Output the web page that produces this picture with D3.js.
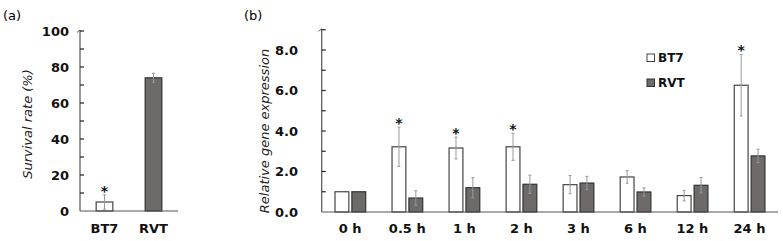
<!DOCTYPE html>
<html>
<head>
<meta charset="utf-8">
<script src="https://cdn.jsdelivr.net/npm/d3@7"></script>
<style>
  body { margin: 0; background: #fff; }
  svg { font-family: "DejaVu Sans", sans-serif; }
  .tick-lab { font-weight: bold; font-size: 13px; fill: #111; }
  .title { font-style: italic; font-size: 13px; fill: #222; }
  .star { font-weight: bold; font-size: 14px; fill: #111; }
</style>
</head>
<body>
<div id="chart"></div>
<script>
// panel (a)
const strainsA = ["BT7", "RVT"];
const survival = [5, 74];
const survivalErr = [4, 2.5];
const survivalSig = [true, false];
const ticksA = [0, 20, 40, 60, 80, 100];

// panel (b)
const times = ["0 h", "0.5 h", "1 h", "2 h", "3 h", "6 h", "12 h", "24 h"];
const bt7 = [1.0, 3.22, 3.16, 3.22, 1.35, 1.73, 0.81, 6.26];
const bt7Err = [0, 0.97, 0.54, 0.67, 0.45, 0.31, 0.26, 1.52];
const rvt = [1.0, 0.69, 1.2, 1.37, 1.43, 0.99, 1.32, 2.77];
const rvtErr = [0, 0.36, 0.5, 0.45, 0.33, 0.2, 0.38, 0.33];
const sigB = [false, true, true, true, false, false, false, true];
const ticksB = [0, 2, 4, 6, 8];
const series = ["BT7", "RVT"];

const fills = { BT7: "#ffffff", RVT: "#6e6a6a" };
const strokes = { BT7: "#444", RVT: "#333" };

const svg = d3.select("#chart").append("svg")
  .attr("width", 783).attr("height", 241);

function yAxis(g, y, x0, minor, labels, fmt, labX) {
  const top = y.range()[1];
  g.append("line").attr("x1", x0).attr("x2", x0)
    .attr("y1", y.range()[0]).attr("y2", top - 1)
    .attr("stroke", "#555").attr("stroke-width", 1.2);
  // small tip at the top of the axis
  g.append("path").attr("d", `M${x0},${top - 1} l-3,2.5`)
    .attr("stroke", "#555").attr("fill", "none");
  g.selectAll(".mt").data(minor).join("line")
    .attr("x1", x0).attr("x2", x0 + 4)
    .attr("y1", d => y(d)).attr("y2", d => y(d))
    .attr("stroke", "#222").attr("stroke-width", 1.2);
  g.selectAll(".tl").data(labels).join("text")
    .attr("class", "tick-lab")
    .attr("x", labX).attr("y", d => y(d)).attr("dy", "0.36em")
    .attr("text-anchor", "end").text(fmt);
}

function errBar(g, cx, yTop, yBot, cap) {
  g.append("line").attr("x1", cx).attr("x2", cx).attr("y1", yTop).attr("y2", yBot)
    .attr("stroke", "#999").attr("stroke-width", 1);
  [yTop, yBot].forEach(v => g.append("line")
    .attr("x1", cx - cap).attr("x2", cx + cap).attr("y1", v).attr("y2", v)
    .attr("stroke", "#999").attr("stroke-width", 1));
}

// stars go in their own layer (opacity forces plain grey antialiasing)
const starLayer = svg.append("g").attr("opacity", 0.99);
function star(cx, yTop) {
  starLayer.append("text").attr("class", "star")
    .attr("x", cx).attr("y", yTop + 1)
    .attr("text-anchor", "middle").text("*");
}

// ---- panel (a)
svg.append("text").attr("x", 3).attr("y", 20).style("font-size", "13px").text("(a)");
const gA = svg.append("g");
const yA = d3.scaleLinear().domain([0, 100]).range([211, 31]);
const xA = d3.scaleBand().domain(strainsA).range([80, 178]).paddingInner(0.66).paddingOuter(0.33);

strainsA.forEach((s, i) => {
  const x = xA(s), w = xA.bandwidth(), cx = x + w / 2;
  gA.append("rect").attr("x", x).attr("y", yA(survival[i]))
    .attr("width", w).attr("height", yA(0) - yA(survival[i]))
    .attr("fill", fills[s]).attr("stroke", strokes[s]).attr("stroke-width", 1.2);
  errBar(gA, cx, yA(survival[i] + survivalErr[i]), yA(survival[i] - survivalErr[i]), 1.5);
  if (survivalSig[i]) star(cx, yA(survival[i] + survivalErr[i]));
  gA.append("text").attr("class", "tick-lab").attr("x", cx).attr("y", 233)
    .attr("text-anchor", "middle").text(s);
});
gA.append("line").attr("x1", 80).attr("x2", 178).attr("y1", yA(0)).attr("y2", yA(0))
  .attr("stroke", "#555").attr("stroke-width", 1.2);
yAxis(gA, yA, 80, d3.range(10, 101, 10), ticksA, d => d, 69);
gA.append("text").attr("class", "title")
  .attr("transform", `translate(32,124) rotate(-90)`)
  .attr("text-anchor", "middle").text("Survival rate (%)");

// ---- panel (b)
svg.append("text").attr("x", 244).attr("y", 20).style("font-size", "13px").text("(b)");
const gB = svg.append("g");
const yB = d3.scaleLinear().domain([0, 9]).range([212, 29.75]);
const xB = d3.scaleBand().domain(times).range([321.7, 778]);
const xIn = d3.scaleBand().domain(series).range([13.3, 44]).paddingInner(0.18);

times.forEach((t, i) => {
  const vals = { BT7: [bt7[i], bt7Err[i]], RVT: [rvt[i], rvtErr[i]] };
  series.forEach(s => {
    const [v, e] = vals[s];
    const x = xB(t) + xIn(s), w = xIn.bandwidth(), cx = x + w / 2;
    gB.append("rect").attr("x", x).attr("y", yB(v))
      .attr("width", w).attr("height", yB(0) - yB(v))
      .attr("fill", fills[s]).attr("stroke", strokes[s]).attr("stroke-width", 1.2);
    if (e > 0) errBar(gB, cx, yB(v + e), yB(v - e), 1.5);
    if (s === "BT7" && sigB[i]) star(cx, yB(v + e));
  });
  gB.append("text").attr("class", "tick-lab").attr("x", xB(t) + xB.bandwidth() / 2).attr("y", 233)
    .attr("text-anchor", "middle").text(t);
});
gB.append("line").attr("x1", 321.7).attr("x2", 778).attr("y1", yB(0)).attr("y2", yB(0))
  .attr("stroke", "#555").attr("stroke-width", 1.2);
yAxis(gB, yB, 321.7, d3.range(1, 10, 1), ticksB, d3.format(".1f"), 298);
gB.append("text").attr("class", "title")
  .attr("transform", `translate(269,131) rotate(-90)`)
  .attr("text-anchor", "middle").text("Relative gene expression");

// legend
const leg = svg.append("g").attr("transform", "translate(647,54)");
series.forEach((s, i) => {
  const r = leg.append("g").attr("transform", `translate(0,${i * 25})`);
  r.append("rect").attr("width", 7.5).attr("height", 7.5)
    .attr("fill", fills[s]).attr("stroke", strokes[s]).attr("stroke-width", 1);
  r.append("text").attr("class", "tick-lab").attr("x", 11).attr("y", 4).attr("dy", "0.36em")
    .style("font-size", "12px").text(s);
});
</script>
</body>
</html>
